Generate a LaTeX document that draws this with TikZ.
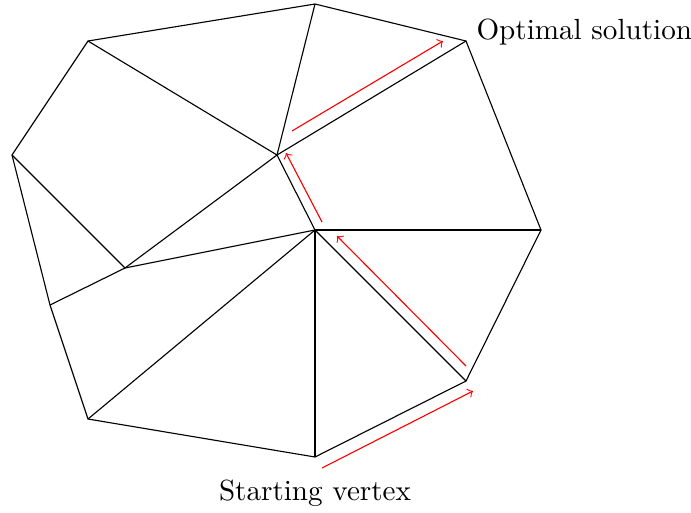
\documentclass[tikz,border=0pt]{standalone}
\begin{document}
\begin{tikzpicture}[x=0.357pt,y=-0.357pt,
  edge/.style={draw=black,line width=0.4pt},
  move/.style={draw=red,line width=0.4pt,->},
  lab/.style={inner sep=0pt,font=\fontsize{10.4}{12.5}\selectfont}]
\useasboundingbox (0,0) rectangle (691,512);
\coordinate (A) at (88,41);
\coordinate (B) at (315,4);
\coordinate (C) at (466,41);
\coordinate (D) at (541,230);
\coordinate (E) at (466,381);
\coordinate (F) at (315,457);
\coordinate (G) at (88,419);
\coordinate (H) at (50,305);
\coordinate (I) at (12,155);
\coordinate (J) at (277,155);
\coordinate (K) at (315,230);
\coordinate (L) at (125,268);
% outer polygon
\draw[edge] (A) -- (B) -- (C) -- (D) -- (E) -- (F) -- (G) -- (H) -- (I) -- cycle;
% inner edges
\draw[edge] (A) -- (J);
\draw[edge] (B) -- (J);
\draw[edge] (J) -- (C);
\draw[edge] (J) -- (K);
\draw[edge] (J) -- (L);
\draw[edge] (I) -- (L);
\draw[edge] (L) -- (H);
\draw[edge] (L) -- (K);
\draw[edge] (K) -- (D);
\draw[edge] (K) -- (E);
\draw[edge] (K) -- (F);
\draw[edge] (K) -- (G);
% path arrows
\coordinate (a1s) at (322,468);
\coordinate (a1e) at (473,391);
\coordinate (a2s) at (466,366);
\coordinate (a2e) at (337,236);
\coordinate (a3s) at (322,222);
\coordinate (a3e) at (286,153);
\coordinate (a4s) at (292,131);
\coordinate (a4e) at (443,41);
\draw[move] (a1s) -- (a1e);
\draw[move] (a2s) -- (a2e);
\draw[move] (a3s) -- (a3e);
\draw[move] (a4s) -- (a4e);
% labels
\node[lab,anchor=west] (opt) at (476,32) {Optimal solution};
\node[lab] (start) at (315,493) {Starting vertex};
\end{tikzpicture}
\end{document}
